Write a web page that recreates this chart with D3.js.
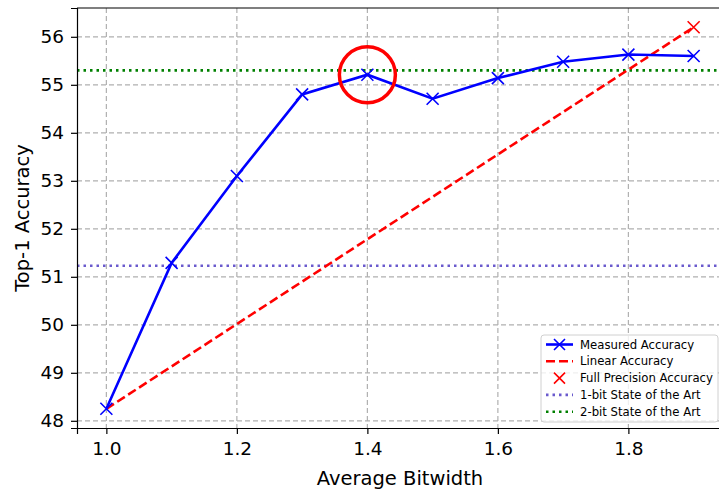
<!DOCTYPE html>
<html>
<head>
<meta charset="utf-8">
<script src="https://cdn.jsdelivr.net/npm/d3@7"></script>
<style>
body { margin: 0; background: #fff; }
text { font-family: "DejaVu Sans", sans-serif; }
</style>
</head>
<body>
<script>
const width = 719, height = 489;

// measured points
const bitwidths = [1.0, 1.1, 1.2, 1.3, 1.4, 1.5, 1.6, 1.7, 1.8, 1.9];
const measured = [48.25, 51.29, 53.1, 54.8, 55.21, 54.71, 55.14, 55.48, 55.63, 55.6];
// linear interpolation endpoints
const linearX = [1.0, 1.9];
const linearY = [48.25, 56.2];
const fullPrecision = [1.9, 56.2];
const sota1bit = 51.23;
const sota2bit = 55.3;
const highlight = [1.4, 55.21];

const xTicks = [1.0, 1.2, 1.4, 1.6, 1.8];
const yTicks = [48, 49, 50, 51, 52, 53, 54, 55, 56];

const legendItems = [
    {label: "Measured Accuracy", color: "#0000ff", dash: null, marker: true, line: true},
    {label: "Linear Accuracy", color: "#ff0000", dash: "9,4", marker: false, line: true},
    {label: "Full Precision Accuracy", color: "#ff0000", dash: null, marker: true, line: false},
    {label: "1-bit State of the Art", color: "#6a5acd", dash: "2.5,4", marker: false, line: true},
    {label: "2-bit State of the Art", color: "#008000", dash: "2.5,4", marker: false, line: true}
];

const m = {left: 77, top: 8, right: 723, bottom: 428};

const x = d3.scaleLinear().domain([0.955, 1.945]).range([m.left, m.right]);
const y = d3.scaleLinear().domain([47.85, 56.6]).range([m.bottom, m.top]);

const svg = d3.select("body").append("svg")
    .attr("width", width)
    .attr("height", height);

// grid
const grid = svg.append("g");
grid.selectAll(".gx").data(xTicks).enter().append("line")
    .attr("x1", d => x(d)).attr("x2", d => x(d))
    .attr("y1", m.top).attr("y2", m.bottom)
    .attr("stroke", "#b0b0b0").attr("stroke-width", 1.2)
    .attr("stroke-dasharray", "5,3");
grid.selectAll(".gy").data(yTicks).enter().append("line")
    .attr("x1", m.left).attr("x2", m.right)
    .attr("y1", d => y(d)).attr("y2", d => y(d))
    .attr("stroke", "#b0b0b0").attr("stroke-width", 1.2)
    .attr("stroke-dasharray", "5,3");

// horizontal reference lines
svg.append("line")
    .attr("x1", m.left).attr("x2", m.right)
    .attr("y1", y(sota1bit)).attr("y2", y(sota1bit))
    .attr("stroke", "#6a5acd").attr("stroke-width", 2.6)
    .attr("stroke-dasharray", "2.5,4");
svg.append("line")
    .attr("x1", m.left).attr("x2", m.right)
    .attr("y1", y(sota2bit)).attr("y2", y(sota2bit))
    .attr("stroke", "#008000").attr("stroke-width", 2.6)
    .attr("stroke-dasharray", "2.5,4");

// linear
const line = d3.line().x(d => x(d[0])).y(d => y(d[1]));
svg.append("path")
    .datum(d3.zip(linearX, linearY))
    .attr("d", line)
    .attr("fill", "none")
    .attr("stroke", "#ff0000").attr("stroke-width", 2.6)
    .attr("stroke-dasharray", "9,4");

// measured
const pts = d3.zip(bitwidths, measured);
svg.append("path")
    .datum(pts)
    .attr("d", line)
    .attr("fill", "none")
    .attr("stroke", "#0000ff").attr("stroke-width", 2.6);

function cross(g, cx, cy, s, color) {
    g.append("path")
        .attr("d", `M${cx - s},${cy - s}L${cx + s},${cy + s}M${cx - s},${cy + s}L${cx + s},${cy - s}`)
        .attr("stroke", color).attr("stroke-width", 1.6).attr("fill", "none");
}

const marks = svg.append("g");
pts.forEach(p => cross(marks, x(p[0]), y(p[1]), 6, "#0000ff"));
cross(marks, x(fullPrecision[0]), y(fullPrecision[1]), 6, "#ff0000");

// highlight circle
svg.append("circle")
    .attr("cx", x(highlight[0]))
    .attr("cy", y(highlight[1]))
    .attr("r", 28)
    .attr("fill", "none")
    .attr("stroke", "#ff0000")
    .attr("stroke-width", 3.5);

// axes
const xAxis = svg.append("g")
    .attr("transform", `translate(0,${m.bottom})`)
    .call(d3.axisBottom(x).tickValues(xTicks).tickFormat(d3.format(".1f")).tickSize(6).tickPadding(8));
const yAxis = svg.append("g")
    .attr("transform", `translate(${m.left},0)`)
    .call(d3.axisLeft(y).tickValues(yTicks).tickSize(6).tickPadding(7));
[xAxis, yAxis].forEach(a => {
    a.selectAll("text").attr("font-size", 18.5).attr("fill", "#000")
        .style("font-family", "DejaVu Sans, sans-serif");
    a.selectAll("line").attr("stroke", "#000").attr("stroke-width", 1.2);
    a.select(".domain").attr("stroke", "#000").attr("stroke-width", 1.2);
});
// top spine
svg.append("line")
    .attr("x1", m.left).attr("x2", m.right)
    .attr("y1", m.top).attr("y2", m.top)
    .attr("stroke", "#000").attr("stroke-width", 1.2);

svg.append("text")
    .attr("x", 400)
    .attr("y", 485)
    .attr("text-anchor", "middle")
    .attr("font-size", 19.5)
    .text("Average Bitwidth");
svg.append("text")
    .attr("transform", `translate(29,218) rotate(-90)`)
    .attr("text-anchor", "middle")
    .attr("font-size", 19.5)
    .text("Top-1 Accuracy");

// legend
const lg = svg.append("g").attr("transform", "translate(541,335)");
lg.append("rect")
    .attr("width", 177).attr("height", 87).attr("rx", 3)
    .attr("fill", "#fff").attr("fill-opacity", 0.8)
    .attr("stroke", "#d0d0d0");
legendItems.forEach((it, i) => {
    const cy = 9.5 + i * 16.8;
    if (it.line) {
        lg.append("line")
            .attr("x1", 5).attr("x2", 32).attr("y1", cy).attr("y2", cy)
            .attr("stroke", it.color).attr("stroke-width", 2.6)
            .attr("stroke-dasharray", it.dash);
    }
    if (it.marker) cross(lg, 18.5, cy, 5.5, it.color);
    lg.append("text")
        .attr("x", 39).attr("y", cy + 4)
        .attr("font-size", 11.7)
        .text(it.label);
});
</script>
</body>
</html>
